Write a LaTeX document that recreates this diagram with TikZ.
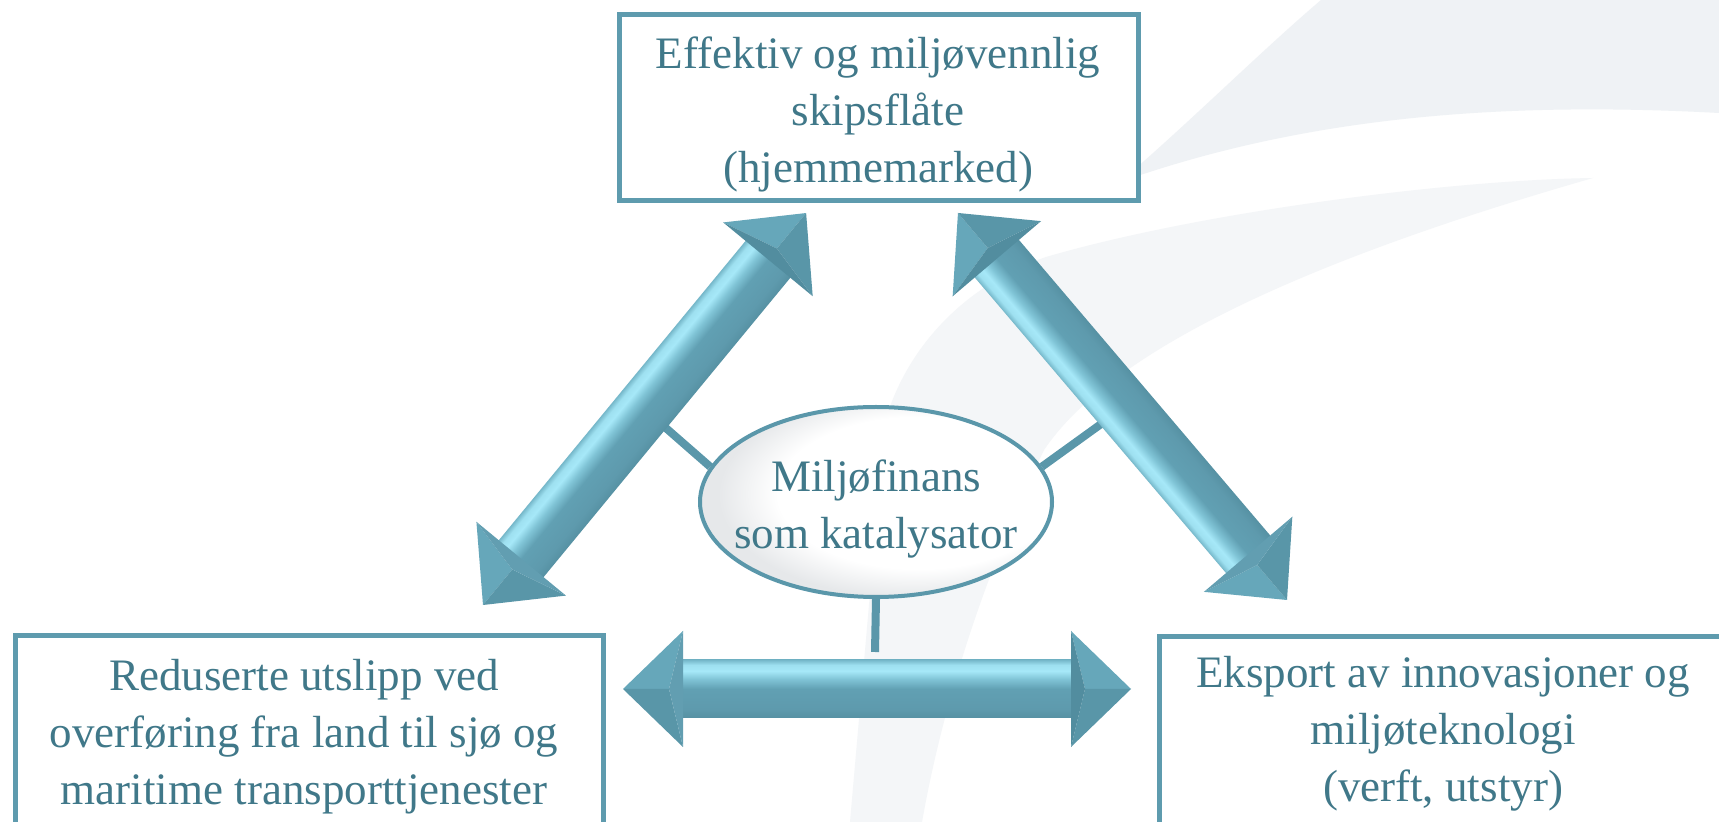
\documentclass[tikz,border=0pt]{standalone}
\usepackage{fontspec}
\setmainfont{Liberation Serif}
\usetikzlibrary{shapes.geometric,calc}
\definecolor{txtc}{RGB}{64,120,137}
\definecolor{boxc}{RGB}{94,155,174}
\definecolor{linkc}{RGB}{90,151,170}
\definecolor{bgA}{RGB}{239,242,245}
\definecolor{bgB}{RGB}{244,246,248}
\definecolor{sh1}{RGB}{86,145,163}
\definecolor{sh2}{RGB}{94,154,173}
\definecolor{sh3}{RGB}{97,160,179}
\definecolor{sh4}{RGB}{128,196,214}
\definecolor{sh5}{RGB}{166,232,248}
\definecolor{sh6}{RGB}{158,224,240}
\definecolor{sh7}{RGB}{118,184,202}
\definecolor{hdUp}{RGB}{102,167,186}
\definecolor{hdLo}{RGB}{89,150,168}
\definecolor{hdBase}{RGB}{82,141,159}
\definecolor{hdMid}{RGB}{98,158,177}
\definecolor{ellg}{RGB}{230,232,234}
\pgfdeclareverticalshading{shaftshade}{100bp}{color(0bp)=(sh1); color(25bp)=(sh1); color(33bp)=(sh2); color(50bp)=(sh3); color(58.6bp)=(sh4); color(65.5bp)=(sh5); color(70.7bp)=(sh6); color(75bp)=(sh7); color(100bp)=(sh7)}
\pgfdeclareradialshading{ellshade}{\pgfpoint{10bp}{4bp}}{color(0bp)=(white); color(20bp)=(white); color(27bp)=(ellg); color(50bp)=(ellg)}
\pgfdeclarelayer{back}
\pgfdeclarelayer{links}
\pgfsetlayers{back,links,main}
\newcommand{\blockarr}[2]{%
\begin{scope}[transform canvas={shift={(#1)},rotate=#2}]
  \shade[shading=shaftshade] (59,-29) rectangle (449,29);
  \fill[hdUp] (448,58) -- (508,0) -- (462,0) -- cycle;
  \fill[hdLo] (448,-58) -- (508,0) -- (462,0) -- cycle;
  \fill[hdBase] (448,58) -- (462,0) -- (448,-58) -- cycle;
  \fill[hdUp] (60,58) -- (0,0) -- (46,0) -- cycle;
  \fill[hdLo] (60,-58) -- (0,0) -- (46,0) -- cycle;
  \fill[hdMid] (60,58) -- (46,0) -- (60,-58) -- cycle;
\end{scope}}
\tikzset{
  boxst/.style={rectangle, draw=boxc, line width=5pt, fill=white, inner sep=0pt},
  txt/.style={text=txtc, font=\fontsize{45}{57}\selectfont, align=center, inner sep=0pt},
  link/.style={draw=linkc, line width=8pt},
  ellst/.style={ellipse, draw=linkc, line width=4pt, inner sep=0pt,
    minimum width=352pt, minimum height=190pt, shade, shading=ellshade},
}
\begin{document}
\begin{tikzpicture}[x=1pt,y=1pt]
\useasboundingbox (0,0) rectangle (1719,822);
\begin{pgfonlayer}{back}
  \fill[white] (0,0) rectangle (1719,822);
  \fill[bgA] (1321,822) -- (1719,822) -- (1719,709)
     .. controls (1480,722) and (1290,700) .. (1120,640)
     .. controls (1190,700) and (1260,770) .. (1321,822) -- cycle;
  \fill[bgB] (1593,644) .. controls (1450,642) and (1200,610) .. (1046,565)
     .. controls (960,535) and (905,470) .. (885,400) -- (850,0) -- (922,0)
     .. controls (945,130) and (990,260) .. (1044,372)
     .. controls (1110,470) and (1300,560) .. (1593,644) -- cycle;
\end{pgfonlayer}
\clip (0,0) rectangle (1719,822);
% boxes
\node[boxst, minimum width=519pt, minimum height=186pt] (topbox) at (878.5,714) {};
\node[boxst, minimum width=588pt, minimum height=216pt] (leftbox) at (309,78) {};
\node[boxst, minimum width=601pt, minimum height=215pt] (rightbox) at (1459.5,77.5) {};
\node[txt] (toptxt) at (878,707.5) {Effektiv og miljøvennlig\\skipsflåte\\(hjemmemarked)};
\node[txt] (lefttxt) at (304,85.5) {Reduserte utslipp ved\\overføring fra land til sjø og\\maritime transporttjenester};
\node[txt] (righttxt) at (1443,88.5) {Eksport av innovasjoner og\\miljøteknologi\\(verft, utstyr)};
% arrows
\coordinate (la1) at (483,217); \coordinate (la2) at (807,610);
\coordinate (ra1) at (1287,222); \coordinate (ra2) at (958,609);
\coordinate (ba1) at (623,133); \coordinate (ba2) at (1130,133);
\blockarr{la1}{50.5}
\blockarr{ra1}{130.37}
\blockarr{ba1}{0}
% centre
\node[ellst] (ell) at (876,320) {};
\node[txt] (elltxt) at (876,313) {Miljøfinans\\som katalysator};
\coordinate (lc) at (659,400);
\coordinate (rc) at (1108,403);
\coordinate (bc) at (875,170);
\begin{pgfonlayer}{links}
  \draw[link] (ell.168) -- (lc);
  \draw[link] (ell.12) -- (rc);
  \draw[link] (ell.south) -- (bc);
\end{pgfonlayer}
\end{tikzpicture}
\end{document}
